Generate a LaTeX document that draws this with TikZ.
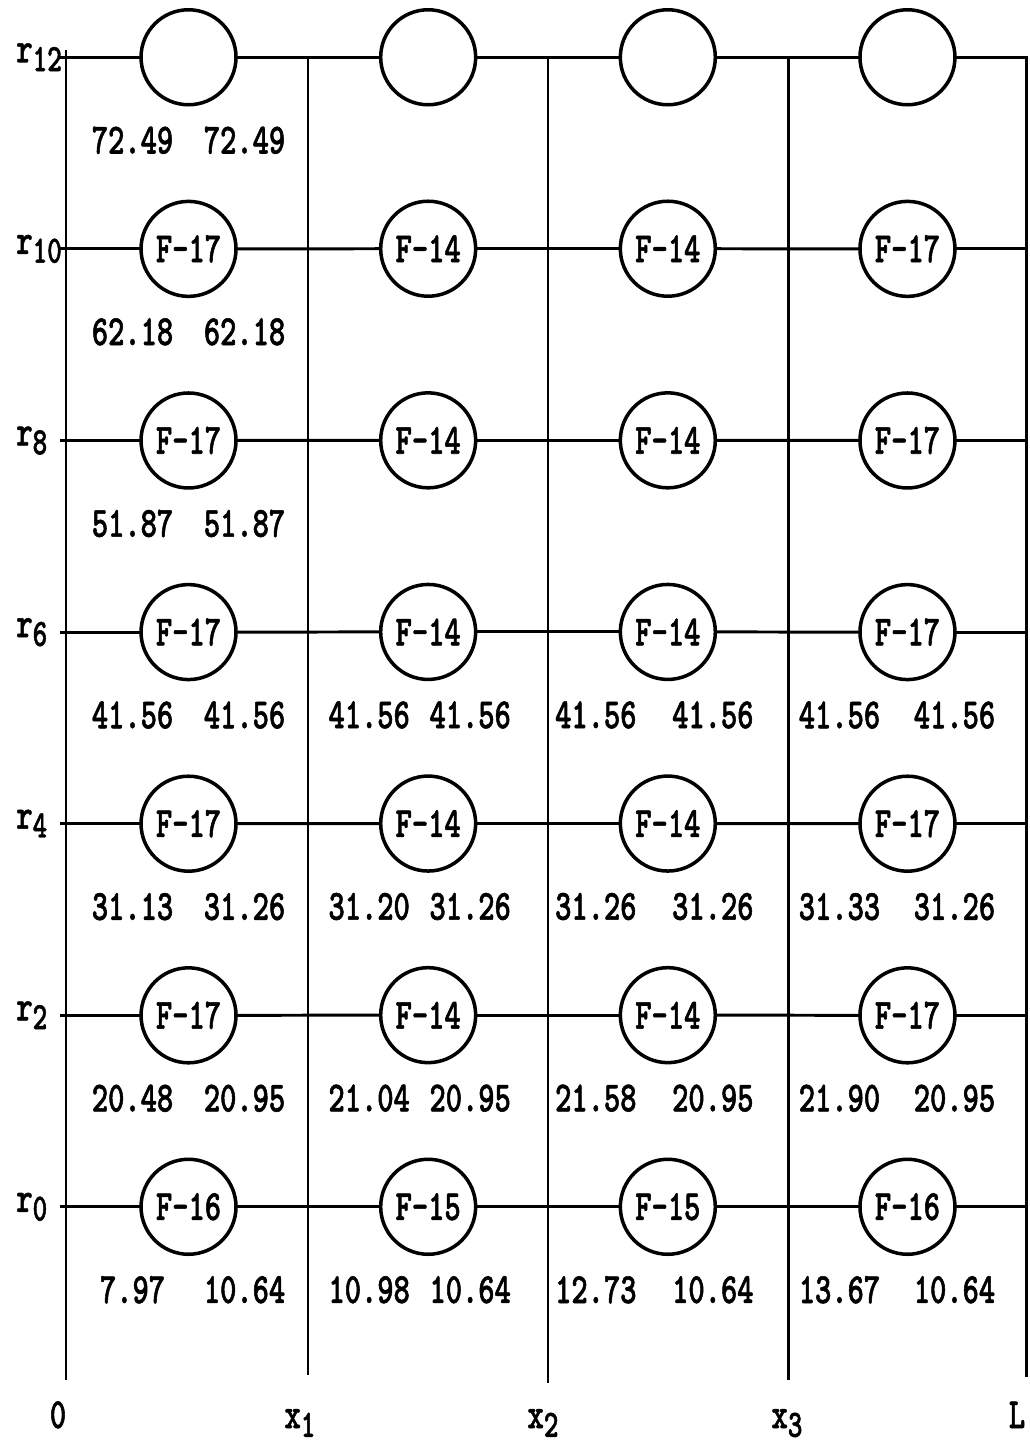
\documentclass[tikz,border=0pt]{standalone}
\usepackage{fontspec}
\newfontfamily\typer[FakeStretch=0.72,FakeBold=1.2]{lmmonolt10-bold.otf}
\usetikzlibrary{matrix,calc}
\newcommand\lowered[1]{\raisebox{-5pt}{\fontsize{22}{22}\selectfont #1}}

\begin{document}
\begin{tikzpicture}[x=0.02cm, y=-0.02cm,
    wire/.style={line width=1.7pt},
    val/.style={font=\typer\fontsize{24.5}{28}\selectfont, inner sep=0pt},
    lab/.style={val, anchor=base}
  ]
  \useasboundingbox (0,0) rectangle (1030,1448);

  % vertical lines 0, x1, x2, x3, L
  \foreach \n/\x/\t/\b in {0/66/50/1380, 1/308/58/1375, 2/548/56/1383, 3/788/57/1380, 4/1026/56/1377} {
    \coordinate (top\n) at (\x,\t);
    \coordinate (bot\n) at (\x,\b);
    \draw[wire] (top\n) -- (bot\n);
  }
  \coordinate (edge) at (60,0);
  \coordinate (redge) at (16,0);

  \matrix (m) at (548,632) [matrix of nodes, nodes in empty cells,
    row sep=1.93cm-2pt, column sep=2.894cm-2pt,
    nodes={draw, circle, line width=2pt, minimum size=1.9cm,
      inner sep=0pt, outer sep=0pt, font=\typer\fontsize{24.5}{28}\selectfont}
  ] {
        &      &      &      \\
    F-17 & F-14 & F-14 & F-17 \\
    F-17 & F-14 & F-14 & F-17 \\
    F-17 & F-14 & F-14 & F-17 \\
    F-17 & F-14 & F-14 & F-17 \\
    F-17 & F-14 & F-14 & F-17 \\
    F-16 & F-15 & F-15 & F-16 \\
  };

  % horizontal lines r12 ... r0
  \foreach \i/\s in {1/12, 2/10, 3/8, 4/6, 5/4, 6/2, 7/0} {
    \coordinate (w\i) at (m-\i-1 -| edge);
    \coordinate (e\i) at (m-\i-4 -| top4);
    \draw[wire] (w\i) -- (m-\i-1);
    \draw[wire] (m-\i-1) -- (m-\i-2);
    \draw[wire] (m-\i-2) -- (m-\i-3);
    \draw[wire] (m-\i-3) -- (m-\i-4);
    \draw[wire] (m-\i-4) -- (e\i);
    \node[val, anchor=base west] (r\s) at ($(m-\i-1 -| redge)+(0,5)$) {r\lowered{\s}};
  }

  % values under the circles
  \foreach \j/\dl/\dr/\vals in {
      1/-56/56/{1/72.49/72.49, 2/62.18/62.18, 3/51.87/51.87, 4/41.56/41.56, 5/31.13/31.26, 6/20.48/20.95, 7/7.97/10.64},
      2/-59/42/{4/41.56/41.56, 5/31.20/31.26, 6/21.04/20.95, 7/10.98/10.64},
      3/-72/45/{4/41.56/41.56, 5/31.26/31.26, 6/21.58/20.95, 7/12.73/10.64},
      4/-68/47/{4/41.56/41.56, 5/31.33/31.26, 6/21.90/20.95, 7/13.67/10.64}} {
    \foreach \i/\a/\b in \vals {
      \node[val] (lo-\i-\j) at ($(m-\i-\j)+(\dl,83)$) {\a};
      \node[val] (hi-\i-\j) at ($(m-\i-\j)+(\dr,83)$) {\b};
    }
  }

  % axis labels
  \node[lab] (lab0) at (58,1428) {0};
  \node[lab] (lab1) at (300,1428) {x\lowered{1}};
  \node[lab] (lab2) at (543,1428) {x\lowered{2}};
  \node[lab] (lab3) at (787,1428) {x\lowered{3}};
  \node[lab] (lab4) at (1017,1428) {L};
\end{tikzpicture}
\end{document}
